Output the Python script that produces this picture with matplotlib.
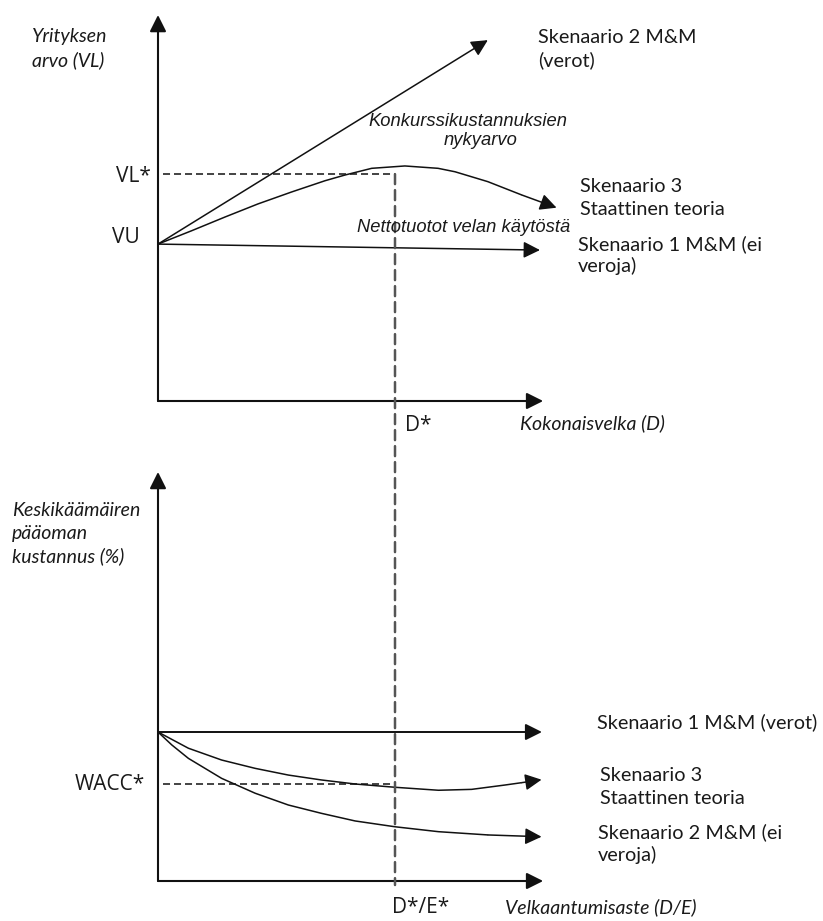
import matplotlib
matplotlib.use("Agg")
import matplotlib.pyplot as plt
from matplotlib.patches import ConnectionPatch

plt.rcParams['font.family'] = ['Lato', 'DejaVu Sans']

W, H = 823, 921

# --- top panel: firm value (VL) vs total debt (D) ---
d_star = 6.0
vu = 10.0
vl_star = 14.46
top_axis_x = 9.75
top_axis_y = 24.6

scen1_top_x = [0.0, 9.67]
scen1_top_y = [10.0, 9.62]
scen2_top_x = [0.0, 8.35]
scen2_top_y = [10.0, 23.0]
scen3_top_x = [0.0, 0.85, 1.70, 2.53, 3.38, 4.23, 4.73, 5.41, 6.25, 7.09, 7.52, 8.35, 9.21, 10.09]
scen3_top_y = [10.0, 10.85, 11.73, 12.56, 13.32, 14.04, 14.40, 14.83, 14.98, 14.83, 14.61, 13.98, 13.13, 12.32]

# --- bottom panel: WACC (%) vs debt/equity ---
wacc0 = 10.0
wacc_star = 6.51
bot_axis_x = 9.75
bot_axis_y = 27.45

scen1_bot_x = [0.0, 9.72]
scen1_bot_y = [10.0, 10.0]
scen3_bot_x = [0.0, 0.77, 1.61, 2.46, 3.30, 4.14, 4.99, 6.00, 7.10, 7.94, 8.78, 9.21, 9.71]
scen3_bot_y = [10.0, 8.91, 8.12, 7.56, 7.11, 6.78, 6.51, 6.29, 6.09, 6.15, 6.44, 6.60, 6.80]
scen2_bot_x = [0.0, 0.35, 0.77, 1.61, 2.46, 3.30, 4.14, 4.99, 6.00, 7.10, 8.36, 9.71]
scen2_bot_y = [10.0, 9.13, 8.23, 6.89, 5.89, 5.10, 4.54, 4.03, 3.64, 3.31, 3.09, 2.97]

fig = plt.figure(figsize=(W / 100, H / 100), dpi=100)
fig.patch.set_facecolor('white')

px_x = 39.5   # pixels per debt unit
px_top = 15.69
px_bot = 14.9

ax1 = fig.add_axes([158 / W, (H - 401) / H, 12 * px_x / W, 25 * px_top / H])
ax1.set_xlim(0, 12)
ax1.set_ylim(0, 25)
ax2 = fig.add_axes([158 / W, (H - 881 - px_bot) / H, 12 * px_x / W, 29 * px_bot / H])
ax2.set_xlim(0, 12)
ax2.set_ylim(-1, 28)
for ax in (ax1, ax2):
    ax.axis('off')

ink = '#111111'


def arrow(ax, x0, y0, x1, y1, lw=1.3):
    ax.annotate('', xy=(x1, y1), xytext=(x0, y0),
                arrowprops=dict(arrowstyle='-|>,head_length=0.5,head_width=0.25',
                                mutation_scale=20, lw=lw, color=ink,
                                shrinkA=0, shrinkB=0),
                annotation_clip=False)


def curve(ax, xs, ys, lw=1.1):
    ax.plot(xs[:-1], ys[:-1], color=ink, lw=lw, clip_on=False,
            solid_joinstyle='round', solid_capstyle='butt')
    arrow(ax, xs[-2], ys[-2], xs[-1], ys[-1], lw=lw)


# top panel axes
arrow(ax1, 0, 0, 0, top_axis_y, lw=1.5)
arrow(ax1, 0, 0, top_axis_x, 0, lw=1.5)
curve(ax1, scen1_top_x, scen1_top_y)
curve(ax1, scen2_top_x, scen2_top_y)
curve(ax1, scen3_top_x, scen3_top_y)
ax1.plot([0.13, d_star], [vl_star, vl_star], color=ink, lw=1.1,
         linestyle=(0, (4.6, 2.6)), clip_on=False)

# bottom panel axes
arrow(ax2, 0, 0, 0, bot_axis_y, lw=1.5)
arrow(ax2, 0, 0, bot_axis_x, 0, lw=1.5)
curve(ax2, scen1_bot_x, scen1_bot_y, lw=1.4)
curve(ax2, scen3_bot_x, scen3_bot_y)
curve(ax2, scen2_bot_x, scen2_bot_y)
ax2.plot([0.13, d_star], [wacc_star, wacc_star], color=ink, lw=1.1,
         linestyle=(0, (4.6, 2.6)), clip_on=False)

# D* link running through both panels
con = ConnectionPatch(xyA=(d_star, vl_star), coordsA=ax1.transData,
                      xyB=(d_star, -0.27), coordsB=ax2.transData,
                      color='#555555', lw=1.8, linestyle=(0, (4, 2.4)))
fig.add_artist(con)


def label(x, y, s, size=14.3, style='normal', family=None, **kw):
    fam = family if family else ['Lato', 'DejaVu Sans']
    fig.text(x / W, 1 - y / H, s, fontsize=size, style=style, family=fam,
             color='#1a1a1a', va='baseline', ha='left', **kw)


ital = 14
arial = ['Liberation Sans', 'DejaVu Sans']
big = ['Open Sans', 'DejaVu Sans']

label(32, 42, 'Yrityksen', ital, 'italic')
label(32, 66, 'arvo (VL)', ital, 'italic')
label(116, 182, 'VL*', 15, family=big)
label(112, 243, 'VU', 15, family=big)
label(538, 43, 'Skenaario 2 M&M')
label(538, 66, '(verot)')
label(368, 126, 'Konkurssikustannuksien', 13.2, 'italic', arial)
label(444, 145, 'nykyarvo', 13.2, 'italic', arial)
label(580, 192, 'Skenaario 3')
label(580, 215, 'Staattinen teoria')
label(357, 232, 'Nettotuotot velan käytöstä', 13.2, 'italic', arial)
label(578, 250, 'Skenaario 1 M&M (ei')
label(578, 272, 'veroja)')
label(405, 431, 'D*', 15, family=big)
label(520, 429, 'Kokonaisvelka (D)', ital, 'italic')

label(12, 516, 'Keskikäämäiren', ital, 'italic')
label(12, 539, 'pääoman', ital, 'italic')
label(12, 562, 'kustannus (%)', ital, 'italic')
label(597, 728, 'Skenaario 1 M&M (verot)')
label(600, 781, 'Skenaario 3')
label(600, 804, 'Staattinen teoria')
label(598, 838, 'Skenaario 2 M&M (ei')
label(598, 861, 'veroja)')
label(75, 790, 'WACC*', 15, family=big)
label(392, 913, 'D*/E*', 15, family=big)
label(505, 913, 'Velkaantumisaste (D/E)', ital, 'italic')

fig.savefig('out.png', dpi=100, facecolor='white')
